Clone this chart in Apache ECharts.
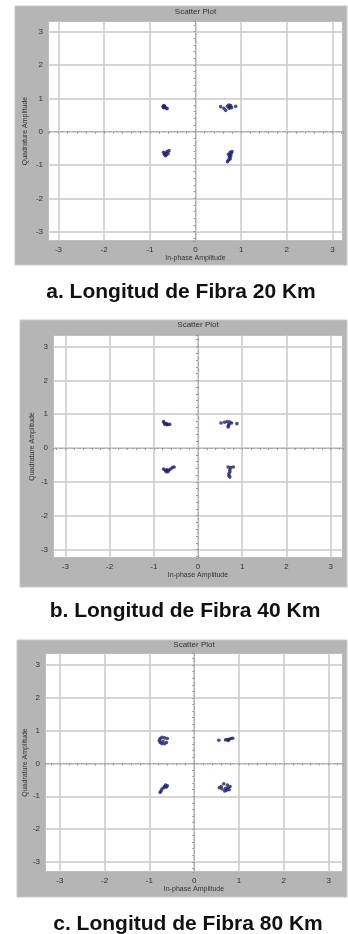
<!DOCTYPE html>
<html>
<head>
<meta charset="utf-8">
<script src="https://cdn.jsdelivr.net/npm/echarts@6/dist/echarts.min.js"></script>
<style>
html,body{margin:0;padding:0;background:#fff;}
#c{width:348px;height:934px;}
</style>
</head>
<body>
<div id="c"></div>
<script>
// ---- data ----
var captions = ['a. Longitud de Fibra 20 Km', 'b. Longitud de Fibra 40 Km', 'c. Longitud de Fibra 80 Km'];
var plotTitle = 'Scatter Plot';
var xName = 'In-phase Amplitude';
var yName = 'Quadrature Amplitude';

var points20km = [
  [-0.71,0.76],[-0.69,0.78],[-0.67,0.74],[-0.70,0.72],[-0.65,0.71],[-0.62,0.69],[-0.68,0.75],
  [0.55,0.75],[0.62,0.70],[0.66,0.64],[0.70,0.76],[0.73,0.80],[0.75,0.74],[0.77,0.78],[0.79,0.72],[0.74,0.70],[0.88,0.76],
  [-0.70,-0.62],[-0.66,-0.64],[-0.62,-0.60],[-0.58,-0.57],[-0.68,-0.68],[-0.64,-0.70],[-0.60,-0.66],[-0.66,-0.72],
  [0.76,-0.62],[0.72,-0.68],[0.75,-0.72],[0.78,-0.66],[0.74,-0.78],[0.76,-0.82],[0.72,-0.86],[0.70,-0.90],[0.77,-0.74],[0.80,-0.60]
];
var points40km = [
  [-0.78,0.78],[-0.76,0.74],[-0.72,0.72],[-0.68,0.70],[-0.64,0.70],[-0.70,0.69],[-0.75,0.70],
  [0.52,0.74],[0.60,0.76],[0.66,0.78],[0.72,0.77],[0.76,0.74],[0.88,0.72],[0.68,0.62],[0.69,0.66],[0.70,0.70],
  [-0.78,-0.62],[-0.74,-0.66],[-0.70,-0.64],[-0.66,-0.66],[-0.62,-0.62],[-0.58,-0.58],[-0.54,-0.56],[-0.72,-0.70],[-0.68,-0.70],
  [0.68,-0.56],[0.74,-0.58],[0.80,-0.56],[0.72,-0.64],[0.72,-0.70],[0.70,-0.76],[0.70,-0.82],[0.72,-0.86]
];
var points80km = [
  [-0.76,0.76],[-0.72,0.80],[-0.66,0.78],[-0.78,0.70],[-0.76,0.64],[-0.72,0.60],[-0.66,0.60],[-0.62,0.64],[-0.70,0.68],[-0.60,0.76],
  [0.55,0.71],[0.70,0.72],[0.74,0.73],[0.78,0.74],[0.82,0.76],[0.86,0.77],[0.76,0.70],
  [-0.64,-0.66],[-0.60,-0.68],[-0.66,-0.70],[-0.68,-0.74],[-0.72,-0.78],[-0.74,-0.84],[-0.76,-0.88],[-0.62,-0.72],
  [0.56,-0.74],[0.60,-0.70],[0.62,-0.78],[0.66,-0.62],[0.70,-0.76],[0.72,-0.82],[0.76,-0.74],[0.80,-0.70],[0.74,-0.66],[0.68,-0.84],[0.78,-0.80]
];
var panelData = [points20km, points40km, points80km];

// ---- layout (pixels) ----
var panels = [
  {frame:[15,6,332,259],  plot:[48,21,343,241],  xr:[-3.23,3.23], yr:[-3.28,3.32], titleY:8,   capX:181, capY:282, yGap:19},
  {frame:[20,320,327,267],plot:[53,335,343,558], xr:[-3.28,3.28], yr:[-3.25,3.34], titleY:321, capX:185, capY:601, yGap:17},
  {frame:[17,640,330,257],plot:[45,653,343,872], xr:[-3.33,3.32], yr:[-3.31,3.37], titleY:641, capX:188, capY:914, yGap:16}
];

var grids = [], xAxes = [], yAxes = [], series = [], titles = [], graphics = [];
panels.forEach(function(p, i){
  graphics.push({type:'rect', z:-10, shape:{x:p.frame[0], y:p.frame[1], width:p.frame[2], height:p.frame[3]},
    style:{fill:'#b5b5b5', stroke:'#c8c8c8', lineWidth:1}});
  grids.push({left:p.plot[0], top:p.plot[1], width:p.plot[2]-p.plot[0], height:p.plot[3]-p.plot[1],
    show:true, backgroundColor:'#ffffff', borderColor:'#3a3a3a', borderWidth:1});
  var xc = (p.plot[0]+p.plot[2])/2;
  titles.push({text:plotTitle, left:xc, top:p.titleY, textAlign:'center', padding:0,
    textStyle:{fontSize:8, fontWeight:'normal', color:'#333', fontFamily:'Liberation Sans'}});
  titles.push({text:captions[i], left:p.capX, top:p.capY, textAlign:'center', padding:0,
    textStyle:{fontSize:21, fontWeight:'bold', color:'#111', fontFamily:'Liberation Sans', lineHeight:21}});
  // labelled axes
  xAxes.push({gridIndex:i, type:'value', min:p.xr[0], max:p.xr[1], splitNumber:6,
    name:xName, nameLocation:'middle', nameGap:14, nameMoveOverlap:false,
    nameTextStyle:{fontSize:7, color:'#333', fontFamily:'Liberation Sans'},
    axisLine:{show:false, onZero:false}, axisTick:{show:false},
    axisLabel:{fontSize:8, color:'#333', margin:5, showMinLabel:false, showMaxLabel:false, fontFamily:'Liberation Sans'},
    splitLine:{show:true, lineStyle:{color:'#c8c8c8', width:1.5}}});
  yAxes.push({gridIndex:i, type:'value', min:p.yr[0], max:p.yr[1], splitNumber:6,
    name:yName, nameLocation:'middle', nameGap:p.yGap, nameRotate:90, nameMoveOverlap:false,
    nameTextStyle:{fontSize:7, color:'#333', fontFamily:'Liberation Sans'},
    axisLine:{show:false, onZero:false}, axisTick:{show:false},
    axisLabel:{fontSize:8, color:'#333', margin:5, showMinLabel:false, showMaxLabel:false, fontFamily:'Liberation Sans'},
    splitLine:{show:true, lineStyle:{color:'#c8c8c8', width:1.5}}});
  // zero cross-hair axes
  xAxes.push({gridIndex:i, type:'value', min:p.xr[0], max:p.xr[1], splitNumber:6, position:'bottom',
    axisLine:{show:true, onZero:true, lineStyle:{color:'#aaaaaa', type:'dashed', width:1}},
    axisTick:{show:true, length:2, lineStyle:{color:'#999'}},
    minorTick:{show:true, splitNumber:5, length:2, lineStyle:{color:'#999'}},
    axisLabel:{show:false}, splitLine:{show:false}});
  yAxes.push({gridIndex:i, type:'value', min:p.yr[0], max:p.yr[1], splitNumber:6, position:'left',
    axisLine:{show:true, onZero:true, lineStyle:{color:'#aaaaaa', type:'dashed', width:1}},
    axisTick:{show:true, length:2, lineStyle:{color:'#999'}},
    minorTick:{show:true, splitNumber:5, length:2, lineStyle:{color:'#999'}},
    axisLabel:{show:false}, splitLine:{show:false}});
  series.push({type:'scatter', xAxisIndex:i*2, yAxisIndex:i*2, data:panelData[i],
    symbol:'circle', symbolSize:3.6, itemStyle:{color:'#1f1f72'}, silent:true, z:5});
});

var chart = echarts.init(document.getElementById('c'), null, {renderer:'canvas'});
chart.setOption({
  animation:false,
  backgroundColor:'#ffffff',
  title:titles,
  grid:grids,
  xAxis:xAxes,
  yAxis:yAxes,
  series:series,
  graphic:graphics
});
</script>
</body>
</html>
